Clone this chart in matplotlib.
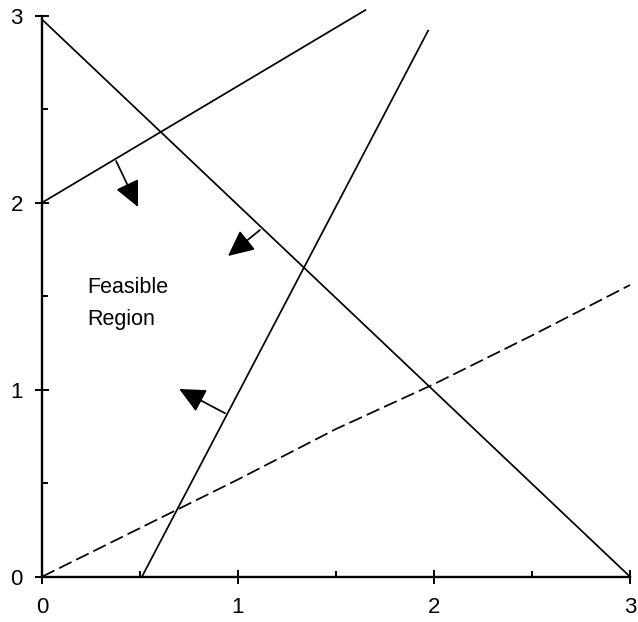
import numpy as np
import matplotlib.pyplot as plt
from matplotlib.ticker import MultipleLocator

plt.rcParams['font.family'] = ['Liberation Sans', 'DejaVu Sans']

# constraint lines
line_a_x = [0.0, 1.65]
line_a_y = [2.0, 3.03]
line_b_x = [0.0, 3.0]
line_b_y = [2.98, 0.0]
line_c_x = [0.51, 1.97]
line_c_y = [0.0, 2.92]
# dashed objective line
dash_x = [0.0, 1.0, 1.5, 2.0, 2.5, 3.0]
dash_y = [0.0, 0.52, 0.79, 1.03, 1.29, 1.56]

# arrows: (tail x, tail y, tip x, tip y)
arrow_tails = [(0.378, 2.223), (1.112, 1.854), (0.934, 0.874)]
arrow_tips = [(0.490, 1.977), (0.949, 1.715), (0.700, 1.004)]

label_text = "Feasible\nRegion"
label_pos = (0.23, 1.60)

ticks = [0, 1, 2, 3]

fig = plt.figure(figsize=(6.38, 6.22), dpi=100)
ax = fig.add_axes([0.0658, 0.0728, 0.9217, 0.902])

lw = 1.25
ax.plot(line_a_x, line_a_y, color='black', lw=lw, clip_on=False)
ax.plot(line_b_x, line_b_y, color='black', lw=lw, clip_on=False)
ax.plot(line_c_x, line_c_y, color='black', lw=lw, clip_on=False)
ax.plot(dash_x, dash_y, color='black', lw=lw, dashes=(8, 3), clip_on=False)

for (tx, ty), (hx, hy) in zip(arrow_tails, arrow_tips):
    ax.annotate('', xy=(hx, hy), xytext=(tx, ty),
                arrowprops=dict(arrowstyle='-|>,head_length=0.42,head_width=0.2',
                                mutation_scale=38, lw=lw, color='black',
                                shrinkA=0, shrinkB=0))

ax.text(label_pos[0], label_pos[1], label_text, fontsize=15.5, va='top', ha='left',
        linespacing=1.65)

ax.set_xlim(0, 3)
ax.set_ylim(0, 3)
ax.set_xticks(ticks)
ax.set_yticks(ticks)
ax.xaxis.set_minor_locator(MultipleLocator(0.5))
ax.yaxis.set_minor_locator(MultipleLocator(0.5))
for s in ['top', 'right']:
    ax.spines[s].set_visible(False)
for s in ['left', 'bottom']:
    ax.spines[s].set_linewidth(1.7)
ax.tick_params(which='major', direction='inout', length=9.5, width=1.4,
               labelsize=16)
ax.tick_params(axis='x', which='major', pad=10)
ax.tick_params(axis='y', which='major', pad=9)
ax.tick_params(which='minor', direction='in', length=4, width=1.4)

plt.savefig('out.png', dpi=100)
